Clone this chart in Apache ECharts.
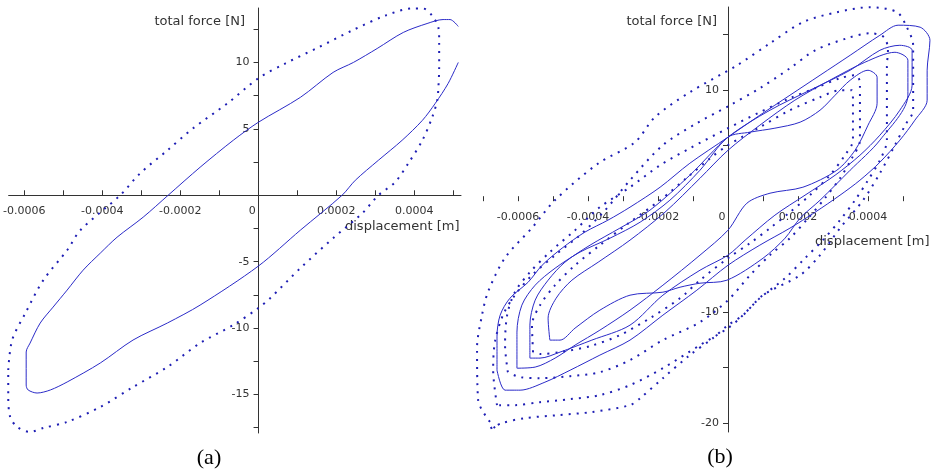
<!DOCTYPE html>
<html><head><meta charset="utf-8">
<script src="https://cdn.jsdelivr.net/npm/echarts@6/dist/echarts.min.js"></script>
<style>html,body{margin:0;padding:0;background:#fff}#c{width:935px;height:473px}</style>
</head><body><div id="c"></div>
<script>
// ---------- axis ticks / labels ----------
const aXTicks = [-6e-4,-5e-4,-4e-4,-3e-4,-2e-4,-1e-4,0,1e-4,2e-4,3e-4,4e-4,5e-4];
const aXLabels = [-6e-4,-4e-4,-2e-4,0,2e-4,4e-4];
const aYTicks = [-17.5,-15,-12.5,-10,-7.5,-5,-2.5,2.5,5,7.5,10,12.5];
const aYLabels = [-15,-10,-5,5,10];
const bXTicks = [-7e-4,-6e-4,-5e-4,-4e-4,-3e-4,-2e-4,-1e-4,0,1e-4,2e-4,3e-4,4e-4,5e-4];
const bXLabels = [-6e-4,-4e-4,-2e-4,0,2e-4,4e-4];
const bYTicks = [-20,-15,-10,-5,5,10,15];
const bYLabels = [-20,-10,10];

// ---------- panel (a) ----------
const aInnerX = [5.13e-4,4.87e-4,4.54e-4,4.21e-4,3.69e-4,3.08e-4,2.49e-4,2.15e-4,1.08e-4,0,-1.49e-4,-2.33e-4,-3.21e-4,-4.05e-4,-4.9e-4,-5.33e-4,-5.67e-4,-5.9e-4,-5.95e-4,-5.95e-4,-5.85e-4,-5.59e-4,-5.26e-4,-4.9e-4,-4.49e-4,-4.05e-4,-3.62e-4,-2.95e-4,-2.31e-4,-1.49e-4,-0.64e-4,0,1.08e-4,1.92e-4,2.44e-4,3.05e-4,3.72e-4,4.33e-4,4.74e-4,4.92e-4,5.13e-4];
const aInnerY = [10.0,8.42,6.92,5.64,4.14,2.63,1.13,0,-2.63,-5.34,-8.27,-9.62,-10.9,-12.63,-14.06,-14.66,-14.89,-14.66,-14.29,-11.8,-11.13,-9.62,-8.42,-7.14,-5.64,-4.36,-3.16,-1.65,0,2.11,4.14,5.49,7.37,9.25,10.0,11.05,12.26,12.93,13.23,13.23,12.71];
const aOuterX = [-6.41e-4,-6.31e-4,-5.97e-4,-5.51e-4,-4.9e-4,-4.56e-4,-3.54e-4,-3.03e-4,-2.33e-4,-1.67e-4,-0.79e-4,0,0.69e-4,1.54e-4,2.41e-4,3.26e-4,3.95e-4,4.23e-4,4.46e-4,4.62e-4,4.64e-4,4.64e-4,4.62e-4,4.59e-4,4.46e-4,4.21e-4,3.85e-4,3.51e-4,3.08e-4,2.67e-4,1.92e-4,1.08e-4,0.31e-4,0,-0.64e-4,-1.49e-4,-2.33e-4,-3.21e-4,-4.05e-4,-4.9e-4,-5.51e-4,-5.85e-4,-6.18e-4,-6.36e-4,-6.41e-4,-6.41e-4];
const aOuterY = [-13.16,-10.9,-8.87,-6.39,-4.14,-2.63,0,1.65,3.38,5.04,6.92,8.8,9.92,11.13,12.41,13.53,14.06,14.06,13.53,12.63,11.65,9.62,8.12,7.14,5.86,4.14,2.41,0.98,0,-1.35,-3.23,-5.49,-7.74,-8.5,-9.77,-11.13,-12.93,-14.44,-15.94,-17.07,-17.52,-17.82,-17.44,-16.69,-15.19,-13.16];

// ---------- panel (b) : dotted loops ----------
const bD1X = [-6.66e-4,-7.14e-4,-7.17e-4,-7.03e-4,-6.86e-4,-6.37e-4,-5.6e-4,-4.94e-4,-3.71e-4,-2.66e-4,-2.09e-4,-1.09e-4,0.26e-4,1.2e-4,2.14e-4,3.11e-4,4.06e-4,4.83e-4,5.11e-4,5.29e-4,5.29e-4,5.06e-4,4.77e-4,4.34e-4,3.86e-4,3.2e-4,2.63e-4,2.06e-4,1.0e-4,0.43e-4,0,-0.43e-4,-1.09e-4,-1.86e-4,-2.51e-4,-2.8e-4,-3.89e-4,-4.86e-4,-5.8e-4,-6.46e-4,-6.86e-4];
const bD1Y = [-20.45,-17.9,-13.2,-10.3,-8.2,-5.1,-2.4,0.1,3.4,5.3,7.57,9.82,12.25,14.23,16.13,17.03,17.48,17.03,15.68,14.05,8.2,6.85,5.05,2.52,0.09,-2.43,-4.86,-6.67,-8.47,-10.27,-11.17,-12.34,-13.87,-15.95,-17.75,-18.38,-19.0,-19.28,-19.55,-20.0,-20.6];
const bD2X = [-6.6e-4,-6.71e-4,-6.66e-4,-6.43e-4,-6.09e-4,-5.6e-4,-4.94e-4,-4.23e-4,-3.51e-4,-2.8e-4,-1.86e-4,-0.89e-4,0.06e-4,0.91e-4,1.77e-4,2.49e-4,3.4e-4,4.06e-4,4.46e-4,4.57e-4,4.54e-4,4.54e-4,4.34e-4,4.0e-4,3.63e-4,3.2e-4,2.71e-4,2.2e-4,1.63e-4,0.91e-4,0.34e-4,0,-0.8e-4,-1.86e-4,-2.8e-4,-3.66e-4,-4.51e-4,-5.37e-4,-6.09e-4,-6.6e-4];
const bD2Y = [-18.38,-15.23,-12.7,-10.27,-8.47,-6.67,-4.86,-3.06,-0.81,1.89,5.05,7.03,8.65,10.18,11.98,13.6,14.68,15.14,14.77,13.6,12.07,5.5,3.69,1.89,0.09,-1.71,-3.51,-5.14,-6.94,-8.74,-10.54,-11.44,-12.97,-15.05,-16.58,-17.48,-17.84,-18.11,-18.38,-18.38];
const bD3X = [-6.29e-4,-6.37e-4,-6.31e-4,-6.09e-4,-5.66e-4,-5.09e-4,-4.37e-4,-3.66e-4,-2.8e-4,-1.94e-4,-1.09e-4,0,0.91e-4,1.77e-4,2.49e-4,3.2e-4,3.63e-4,3.77e-4,3.77e-4,3.54e-4,3.2e-4,2.77e-4,2.29e-4,1.77e-4,1.2e-4,0.63e-4,0,-0.8e-4,-1.86e-4,-2.8e-4,-3.66e-4,-4.51e-4,-5.37e-4,-5.94e-4,-6.29e-4];
const bD3Y = [-15.41,-12.97,-10.27,-8.2,-6.4,-4.59,-2.61,-0.54,1.26,3.24,4.77,6.58,8.02,9.28,10.18,11.08,11.35,10.72,5.5,3.87,2.07,0.27,-1.53,-3.33,-4.86,-6.67,-8.92,-10.9,-12.52,-14.32,-15.41,-15.77,-15.95,-15.86,-15.41];
const bD4X = [-5.57e-4,-5.6e-4,-5.37e-4,-4.94e-4,-4.37e-4,-3.66e-4,-2.8e-4,-1.94e-4,-1.09e-4,-0.51e-4,0,0.91e-4,1.77e-4,2.63e-4,3.2e-4,3.54e-4,3.57e-4,3.57e-4,3.34e-4,2.91e-4,2.34e-4,1.77e-4,1.2e-4,0.63e-4,0,-0.8e-4,-1.37e-4,-2.23e-4,-3.09e-4,-3.94e-4,-4.8e-4,-5.37e-4,-5.57e-4];
const bD4Y = [-13.6,-11.17,-9.37,-7.57,-5.77,-3.96,-1.89,0.09,2.34,3.87,5.05,6.67,8.2,9.37,10.0,10.0,9.1,5.5,4.14,2.34,0.54,-0.99,-2.43,-3.78,-5.14,-7.12,-8.74,-10.54,-12.07,-13.06,-13.6,-13.78,-13.6];

// ---------- panel (b) : solid loops ----------
const bS1X = [-6.6e-4,-6.6e-4,-6.51e-4,-6.23e-4,-5.71e-4,-5.31e-4,-4.74e-4,-4.09e-4,-3.43e-4,-2.8e-4,-1.94e-4,-1.09e-4,0,0.91e-4,1.77e-4,2.63e-4,3.49e-4,4.34e-4,4.86e-4,5.49e-4,5.77e-4,5.69e-4,5.69e-4,5.34e-4,4.91e-4,4.34e-4,3.77e-4,3.2e-4,2.49e-4,1.77e-4,0.91e-4,0,-0.89e-4,-1.86e-4,-2.8e-4,-3.66e-4,-4.51e-4,-5.23e-4,-5.94e-4,-6.37e-4,-6.6e-4];
const bS1Y = [-15.23,-12.16,-10.27,-8.74,-7.3,-5.77,-4.23,-2.79,-1.71,-0.54,1.26,3.42,5.77,7.75,9.55,11.35,13.15,14.95,15.86,15.68,14.5,11.8,9.1,7.3,5.5,3.51,1.89,0.54,-0.99,-2.43,-3.96,-5.77,-8.02,-10.27,-12.52,-13.87,-15.23,-16.31,-17.03,-17.03,-15.23];
const bS2X = [-5.66e-4,-5.66e-4,-5.51e-4,-5.14e-4,-4.66e-4,-3.94e-4,-3.09e-4,-2.23e-4,-1.09e-4,0,1.2e-4,2.34e-4,3.49e-4,4.34e-4,4.91e-4,5.26e-4,5.26e-4,4.91e-4,4.34e-4,3.77e-4,3.06e-4,2.2e-4,1.34e-4,0.49e-4,0,-0.8e-4,-1.86e-4,-2.8e-4,-3.89e-4,-4.8e-4,-5.37e-4,-5.66e-4];
const bS2Y = [-14.14,-11.17,-8.92,-7.12,-5.5,-3.96,-2.43,-0.81,2.34,5.77,8.2,10.0,11.8,13.6,14.05,13.6,10.45,8.2,5.95,4.14,2.34,0.54,-1.26,-3.51,-4.86,-6.22,-8.47,-11.17,-12.52,-13.6,-14.14,-14.14];
const bS3X = [-6.03e-4,-6.03e-4,-5.89e-4,-5.51e-4,-4.94e-4,-4.23e-4,-3.37e-4,-2.51e-4,-1.66e-4,-0.8e-4,0,0.63e-4,1.34e-4,2.06e-4,2.63e-4,3.06e-4,3.49e-4,4.0e-4,4.26e-4,4.26e-4,4.0e-4,3.63e-4,3.11e-4,2.14e-4,1.2e-4,0.54e-4,0,-0.8e-4,-1.86e-4,-2.8e-4,-3.66e-4,-4.37e-4,-4.94e-4,-5.51e-4,-6.03e-4];
const bS3Y = [-15.05,-11.8,-9.37,-7.57,-6.04,-4.59,-3.33,-1.89,0.09,2.79,5.77,6.22,6.58,7.12,8.2,9.55,10.9,11.8,11.17,8.83,6.85,4.59,2.79,1.26,0.72,-0.18,-2.61,-4.86,-7.57,-9.82,-11.62,-12.97,-14.14,-14.95,-15.05];
const bS4X = [-5.09e-4,-5.14e-4,-4.91e-4,-4.46e-4,-3.71e-4,-2.8e-4,-1.8e-4,-0.8e-4,0,0.91e-4,1.91e-4,2.91e-4,3.91e-4,4.77e-4,5.14e-4,5.14e-4,4.34e-4,3.49e-4,2.63e-4,2.06e-4,1.63e-4,1.0e-4,-0.03e-4,-0.8e-4,-1.37e-4,-1.86e-4,-2.8e-4,-3.66e-4,-4.37e-4,-4.8e-4,-5.09e-4];
const bS4Y = [-12.52,-10.54,-8.74,-7.12,-5.5,-3.51,-0.99,2.07,4.59,6.85,9.1,10.9,12.52,13.42,12.7,9.55,5.5,2.79,0.09,-1.53,-3.33,-5.14,-7.12,-7.39,-7.75,-8.2,-8.47,-9.82,-11.44,-12.52,-12.52];

// ---------- build ----------
const pairs = (xs, ys) => xs.map((x, i) => [x, ys[i]]);
const AXC = '#333';
const FONT = 'DejaVu Sans';
const SOLID = { color: '#2b2bc8', width: 1 };
const DOTS = { color: '#1e1eb4', width: 2, type: [2, 6] };

const grids = [
  { left: 8, top: 8, width: 453, height: 425, xMin: -6.4e-4, xMax: 5.2e-4, yMin: -17.9, yMax: 14.1 },
  { left: 476, top: 7, width: 455, height: 425, xMin: -7.2e-4, xMax: 5.8e-4, yMin: -20.8, yMax: 17.5 }
];

function fmtX(v) { return v === 0 ? '{z|0}' : String(v); }

// axes are placed through the origin (0,0) using offset computed from the axis ranges
function xAxisCfg(i, ticks, labels, showLine) {
  const g = grids[i];
  const zeroFromBottom = (0 - g.yMin) / (g.yMax - g.yMin) * g.height;
  return {
    gridIndex: i, type: 'value', min: g.xMin, max: g.xMax, position: 'bottom', offset: -zeroFromBottom,
    axisLine: { show: true, onZero: false, lineStyle: { color: AXC, width: 1, opacity: showLine ? 1 : 0 } },
    axisTick: { show: true, inside: true, length: 5, customValues: ticks, lineStyle: { color: AXC } },
    axisLabel: { customValues: labels, formatter: fmtX, color: AXC, fontFamily: FONT, fontSize: 11, margin: 10,
      rich: { z: { padding: [0, 12, 0, 0], color: AXC, fontFamily: FONT, fontSize: 11 } } },
    splitLine: { show: false }
  };
}
function yAxisCfg(i, ticks, labels) {
  const g = grids[i];
  const zeroFromLeft = (0 - g.xMin) / (g.xMax - g.xMin) * g.width;
  return {
    gridIndex: i, type: 'value', min: g.yMin, max: g.yMax, position: 'left', offset: -zeroFromLeft,
    axisLine: { show: true, onZero: false, lineStyle: { color: AXC, width: 1 } },
    axisTick: { show: true, inside: false, length: 5, customValues: ticks, lineStyle: { color: AXC } },
    axisLabel: { customValues: labels, color: AXC, fontFamily: FONT, fontSize: 11, margin: 9 },
    splitLine: { show: false }
  };
}
function line(i, xs, ys, style) {
  return { type: 'line', xAxisIndex: i, yAxisIndex: i, data: pairs(xs, ys),
    symbol: 'none', showSymbol: false, smooth: 0.3, lineStyle: style, silent: true, clip: true };
}

const chart = echarts.init(document.getElementById('c'), null, { renderer: 'canvas' });
chart.setOption({
  animation: false,
  backgroundColor: '#fff',
  grid: grids.map(g => ({ left: g.left, top: g.top, width: g.width, height: g.height, containLabel: false })),
  xAxis: [ xAxisCfg(0, aXTicks, aXLabels, true), xAxisCfg(1, bXTicks, bXLabels, false) ],
  yAxis: [ yAxisCfg(0, aYTicks, aYLabels), yAxisCfg(1, bYTicks, bYLabels) ],
  series: [
    line(0, aOuterX, aOuterY, DOTS),
    line(0, aInnerX, aInnerY, SOLID),
    line(1, bD1X, bD1Y, DOTS),
    line(1, bD2X, bD2Y, DOTS),
    line(1, bD3X, bD3Y, DOTS),
    line(1, bD4X, bD4Y, DOTS),
    line(1, bS1X, bS1Y, SOLID),
    line(1, bS2X, bS2Y, SOLID),
    line(1, bS3X, bS3Y, SOLID),
    line(1, bS4X, bS4Y, SOLID)
  ],
  graphic: [
    { type: 'text', x: 245, y: 22, style: { text: 'total force [N]', fill: AXC, font: '13px "DejaVu Sans"', align: 'right', verticalAlign: 'middle' } },
    { type: 'text', x: 345, y: 227, style: { text: 'displacement [m]', fill: AXC, font: '13px "DejaVu Sans"', align: 'left', verticalAlign: 'middle' } },
    { type: 'text', x: 717, y: 22, style: { text: 'total force [N]', fill: AXC, font: '13px "DejaVu Sans"', align: 'right', verticalAlign: 'middle' } },
    { type: 'text', x: 815, y: 242, style: { text: 'displacement [m]', fill: AXC, font: '13px "DejaVu Sans"', align: 'left', verticalAlign: 'middle' } },
    { type: 'text', x: 209, y: 458, style: { text: '(a)', fill: '#000', font: '22px "Liberation Serif"', align: 'center', verticalAlign: 'middle' } },
    { type: 'text', x: 720, y: 457, style: { text: '(b)', fill: '#000', font: '22px "Liberation Serif"', align: 'center', verticalAlign: 'middle' } }
  ]
});
</script>
</body></html>
